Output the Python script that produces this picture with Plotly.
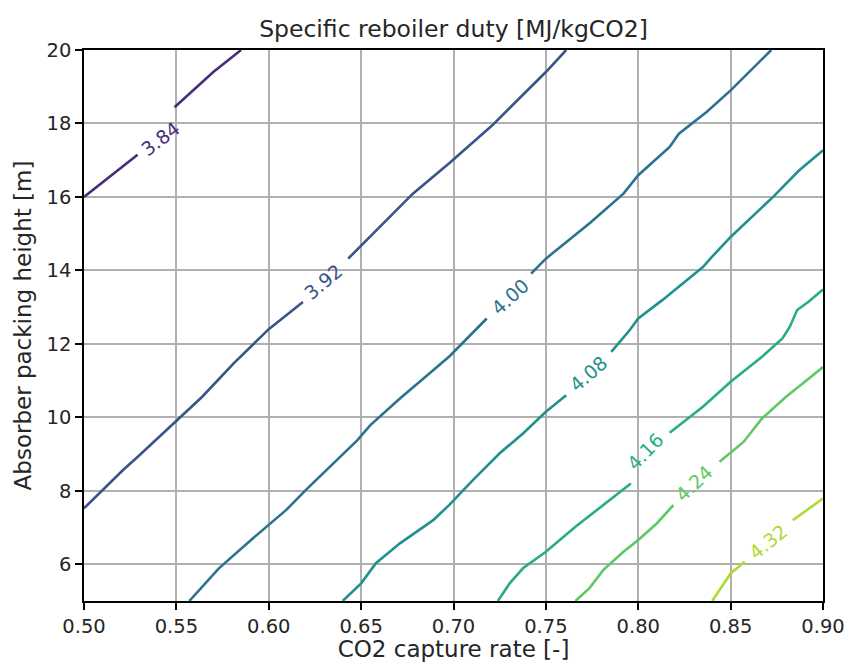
import plotly.graph_objects as go

# Contour levels and their colours (viridis)
levels = [3.84, 3.92, 4.00, 4.08, 4.16, 4.24, 4.32]
level_colors = ["#472d7b", "#3b528b", "#2c728e", "#21918c", "#27ad81", "#5ec962", "#addc30"]

# Contour line coordinates (None = gap for inline label)
x_384 = [0.500, 0.529, None, 0.549, 0.570, 0.585]
y_384 = [16.00, 17.15, None, 18.44, 19.40, 20.00]

x_392 = [0.500, 0.521, 0.530, 0.550, 0.564, 0.581, 0.600, 0.6185, None,
         0.643, 0.678, 0.698, 0.721, 0.750, 0.761]
y_392 = [7.52, 8.56, 8.97, 9.92, 10.56, 11.47, 12.40, 13.14, None,
         14.32, 16.09, 16.93, 17.95, 19.40, 20.00]

x_400 = [0.557, 0.573, 0.5915, 0.600, 0.6095, 0.620, 0.635, 0.648, 0.655, 0.671,
         0.689, 0.698, 0.718, None, 0.742, 0.750, 0.774, 0.792, 0.800, 0.817,
         0.822, 0.837, 0.850, 0.872]
y_400 = [5.00, 5.89, 6.71, 7.07, 7.48, 8.02, 8.75, 9.38, 9.79, 10.51,
         11.28, 11.67, 12.69, None, 13.91, 14.32, 15.30, 16.09, 16.59, 17.36,
         17.72, 18.31, 18.90, 20.00]

x_408 = [0.640, 0.650, 0.658, 0.671, 0.689, 0.698, 0.7105, 0.725, 0.7376, 0.750,
         0.761, None, 0.7854, 0.7953, 0.800, 0.813, 0.835, 0.839, 0.850, 0.873,
         0.887, 0.900]
y_408 = [5.00, 5.48, 6.03, 6.57, 7.20, 7.63, 8.29, 9.02, 9.56, 10.15,
         10.60, None, 11.78, 12.37, 12.69, 13.19, 14.09, 14.32, 14.91, 16.00,
         16.72, 17.27]

x_416 = [0.724, 0.7304, 0.7376, 0.750, 0.766, 0.781, 0.796, None, 0.817, 0.835,
         0.850, 0.867, 0.878, 0.882, 0.886, 0.892, 0.900]
y_416 = [5.00, 5.48, 5.89, 6.34, 7.02, 7.61, 8.20, None, 9.58, 10.29,
         10.97, 11.65, 12.15, 12.46, 12.92, 13.14, 13.48]

x_424 = [0.766, 0.7736, 0.781, 0.792, 0.800, 0.810, 0.819, None, 0.844, 0.857,
         0.867, 0.880, 0.889, 0.900]
y_424 = [5.00, 5.35, 5.84, 6.34, 6.66, 7.11, 7.61, None, 8.79, 9.33,
         9.97, 10.56, 10.92, 11.37]

x_432 = [0.840, 0.846, 0.850, 0.8576, None, 0.8836, 0.900]
y_432 = [5.00, 5.44, 5.75, 6.07, None, 7.20, 7.79]

contour_x = [x_384, x_392, x_400, x_408, x_416, x_424, x_432]
contour_y = [y_384, y_392, y_400, y_408, y_416, y_424, y_432]

# Inline label positions and angles
label_x = [0.5410, 0.6293, 0.7304, 0.7727, 0.8034, 0.8304, 0.8701]
label_y = [17.59, 13.69, 13.28, 11.19, 9.06, 8.20, 6.61]
label_angle = [-37, -40, -42, -41, -46, -43, -39]

x_ticks = [0.50, 0.55, 0.60, 0.65, 0.70, 0.75, 0.80, 0.85, 0.90]
y_ticks = [6, 8, 10, 12, 14, 16, 18, 20]

fig = go.Figure()
for lv, col, xs, ys in zip(levels, level_colors, contour_x, contour_y):
    fig.add_trace(go.Scatter(x=xs, y=ys, mode="lines",
                             line=dict(color=col, width=2.6),
                             connectgaps=False, showlegend=False,
                             hoverinfo="skip"))

for lv, col, lx, ly, ang in zip(levels, level_colors, label_x, label_y, label_angle):
    fig.add_annotation(x=lx, y=ly, xref="x", yref="y", text=f"{lv:.2f}",
                       showarrow=False, textangle=ang,
                       font=dict(family="DejaVu Sans", size=19, color=col))

W, H = 848, 662
fig.update_layout(
    width=W, height=H,
    margin=dict(l=84, r=25, t=50, b=61, autoexpand=False),
    paper_bgcolor="white", plot_bgcolor="white",
    font=dict(family="DejaVu Sans", size=19.5, color="#262626"),
    title=dict(text="Specific reboiler duty [MJ/kgCO2]", x=0.5, xanchor="center",
               xref="paper",
               y=1 - 29 / H, yanchor="middle", font=dict(size=23.5, color="#262626")),
)
fig.update_xaxes(range=[0.5, 0.9], tickvals=x_ticks,
                 ticktext=[f"{v:.2f}" for v in x_ticks],
                 showgrid=True, gridcolor="#b0b0b0", gridwidth=1.5,
                 showline=True, linecolor="black", linewidth=1.6, mirror=True,
                 ticks="outside", ticklen=7, tickwidth=1.6, tickcolor="black",
                 zeroline=False, automargin=False,
                 title=dict(text="CO2 capture rate [-]", standoff=4))
fig.update_yaxes(range=[5, 20], tickvals=y_ticks,
                 showgrid=True, gridcolor="#b0b0b0", gridwidth=1.5,
                 showline=True, linecolor="black", linewidth=1.6, mirror=True,
                 ticks="outside", ticklen=7, tickwidth=1.6, tickcolor="black",
                 zeroline=False, automargin=False,
                 title=dict(text="Absorber packing height [m]", standoff=8))

fig.write_html("out.html",
               config={"displayModeBar": False},
               post_script="document.body.style.margin='0';"
                           "document.body.style.overflow='hidden';")
